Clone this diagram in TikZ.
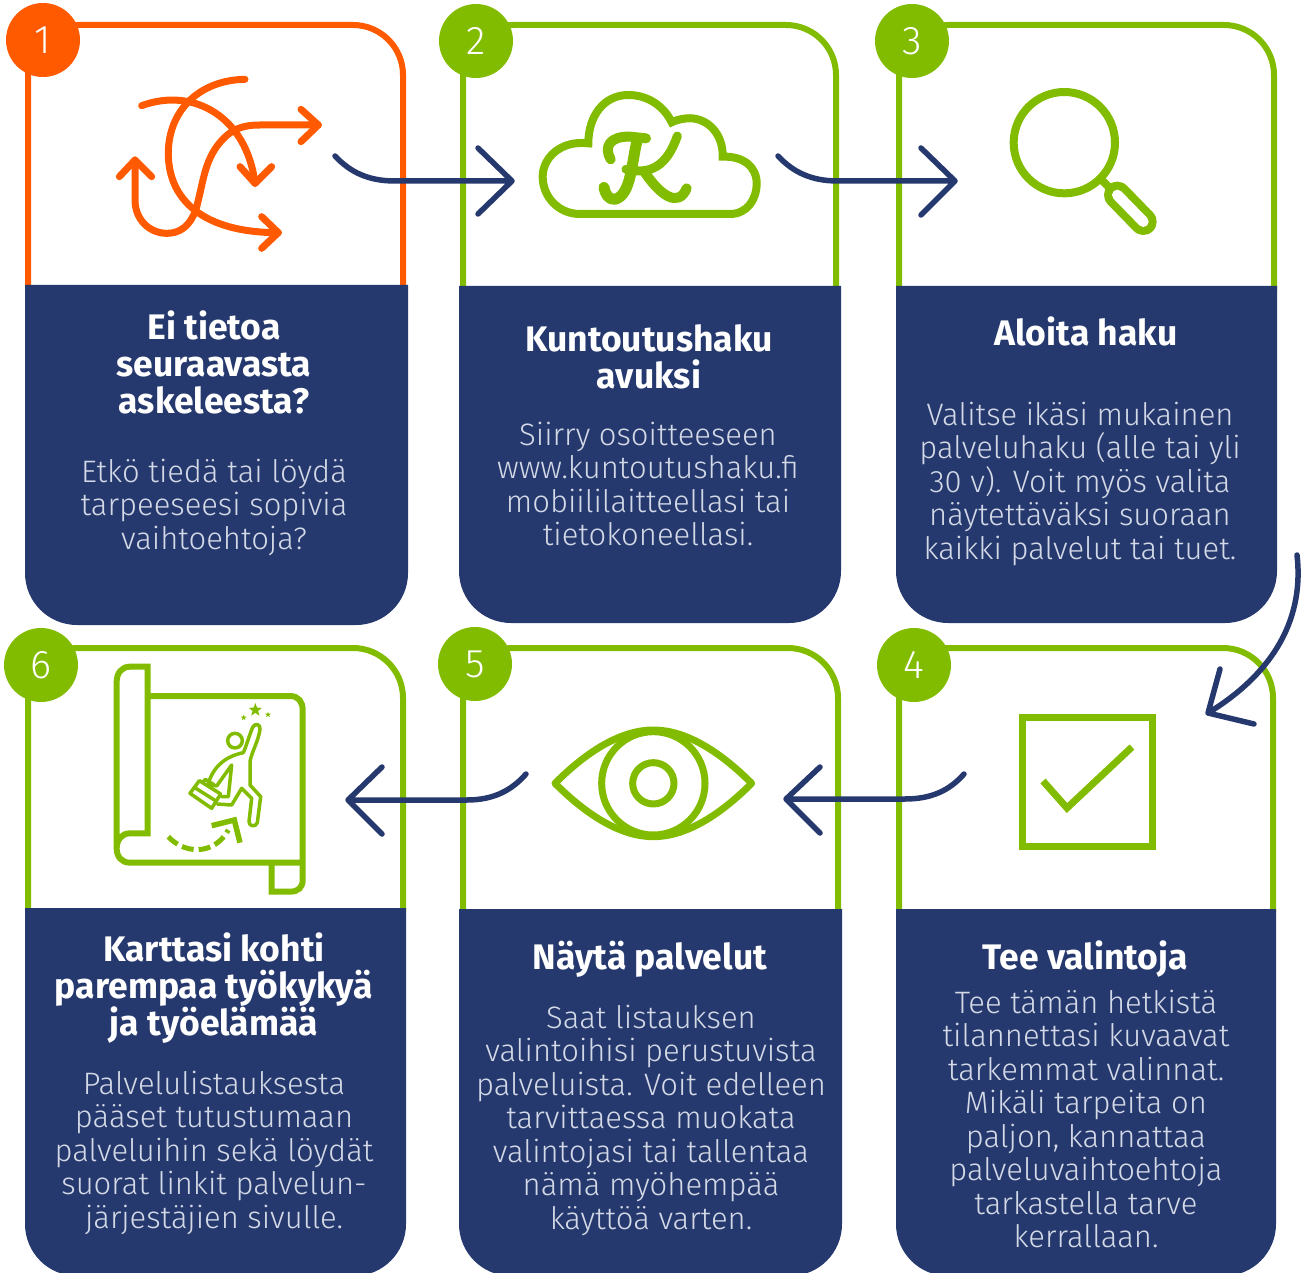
\documentclass[tikz,border=0pt]{standalone}
\usepackage{fontspec}
\setmainfont{Fira Sans}[UprightFont=* Light,BoldFont=* Bold]
\usetikzlibrary{shapes.geometric}
\definecolor{ora}{HTML}{FF5A00}
\definecolor{grn}{HTML}{82BC00}
\definecolor{nav}{HTML}{26396E}
\definecolor{soft}{HTML}{D3D9E6}
\newcommand{\rimbox}[5]{\draw[#1,line width=6pt,rounded corners=50pt] (#2,#5) -- (#2,#4) -- (#3,#4) -- (#3,#5);}
\newcommand{\navbox}[4]{\fill[nav] (#1,#3) -- (#2,#3) [rounded corners=52pt] -- (#2,#4) -- (#1,#4) [sharp corners] -- cycle;}
\tikzset{
  numdisc/.style={circle,minimum size=74pt,inner sep=0pt,text=white,font=\fontsize{40}{42}\selectfont},
  titletext/.style={text=white,align=center,anchor=north,inner sep=0pt,yshift=27pt,font=\fontsize{35.5}{37}\selectfont\bfseries},
  bodytext/.style={text=soft,align=center,anchor=north,inner sep=0pt,yshift=25pt,font=\fontsize{31}{33.5}\selectfont},
  conn/.style={draw=nav,line width=5.5pt,line cap=round,line join=round},
  icon/.style={draw=grn,line width=7pt,line join=round,line cap=round},
  fineicon/.style={draw=grn,line width=3.5pt,line join=round,line cap=round},
  oraicon/.style={draw=ora,line width=7pt,line join=round,line cap=round}
}
\newcommand{\tl}{\rule{0pt}{27pt}}
\newcommand{\bl}{\rule{0pt}{25pt}}
\begin{document}
\begin{tikzpicture}[x=1pt,y=-1pt]
\useasboundingbox (0,0) rectangle (1307,1273);
% frames
\rimbox{ora}{28}{403}{25}{290}
\rimbox{grn}{463}{836}{25}{290}
\rimbox{grn}{899}{1274}{25}{290}
\rimbox{grn}{28}{403}{648}{912}
\rimbox{grn}{463}{838}{648}{912}
\rimbox{grn}{899}{1273}{648}{912}
\navbox{25}{408}{285}{625}
\navbox{459}{841}{286}{623}
\navbox{896}{1277}{286}{623}
\navbox{25}{406}{908}{1276}
\navbox{459}{842}{909}{1276}
\navbox{896}{1276}{909}{1276}
% number discs
\node[numdisc,fill=ora] (n1) at (43,40) {1};
\node[numdisc,fill=grn] (n2) at (476,41) {2};
\node[numdisc,fill=grn] (n3) at (912,41) {3};
\node[numdisc,fill=grn] (n4) at (914,665) {4};
\node[numdisc,fill=grn] (n5) at (475,664) {5};
\node[numdisc,fill=grn] (n6) at (41,665) {6};
% icon 1
\begin{scope}[shift={(100,60)},scale=1/3]
\draw[oraicon] (435,58) .. controls (300,60) and (205,150) .. (205,280) .. controls (205,420) and (310,518) .. (535,518);
\draw[oraicon] (485,470) -- (535,518) -- (485,565);
\draw[oraicon] (125,137) .. controls (280,80) and (440,170) .. (465,370);
\draw[oraicon] (420,320) -- (465,370) -- (515,320);
\draw[oraicon] (105,300) -- (105,420) .. controls (105,480) and (150,520) .. (200,520) .. controls (260,520) and (285,470) .. (295,420) .. controls (310,360) and (315,310) .. (350,260) .. controls (390,205) and (430,195) .. (480,195) -- (655,195);
\draw[oraicon] (603,148) -- (655,195) -- (603,245);
\draw[oraicon] (58,350) -- (105,300) -- (155,350);
\end{scope}
% icon 2: cloud with K
\begin{scope}[shift={(520,80)},scale=1/3]
\draw[icon,line width=8pt,line cap=butt,line join=miter] (180,402) -- (630,402) .. controls (680,402) and (710,360) .. (710,310) .. controls (710,260) and (670,228) .. (608,230) .. controls (610,160) and (560,110) .. (500,115) .. controls (480,117) and (465,122) .. (455,127) .. controls (430,75) and (380,45) .. (325,45) .. controls (250,45) and (205,110) .. (205,190) .. controls (120,180) and (68,235) .. (68,290) .. controls (68,350) and (115,402) .. (180,402) -- cycle;
\draw[icon,line width=10pt] (272,238) .. controls (250,200) and (270,168) .. (330,170) -- (378,175);
\draw[icon,line width=11pt] (352,180) .. controls (335,240) and (335,345) .. (285,358) .. controls (265,360) and (255,340) .. (252,322);
\draw[icon,line width=9pt] (472,168) .. controls (440,260) and (390,285) .. (318,268);
\draw[icon,line width=10pt] (375,278) .. controls (420,345) and (475,385) .. (500,325);
\end{scope}
% icon 3: magnifier
\begin{scope}[shift={(1000,80)},scale=1/3]
\draw[icon,line width=8pt] (193,188) circle [radius=152];
\draw[icon,line width=8pt,line cap=butt] (307,302) -- (335,330);
\draw[grn,line width=26.7pt,line cap=round] (352,345) -- (430,425);
\draw[white,line width=10.7pt,line cap=round] (352,345) -- (430,425);
\end{scope}
% icon 4: check box
\draw[icon,line width=7pt,line cap=butt,line join=miter] (1022,717) rectangle (1152,846);
\draw[icon,line cap=butt,line join=miter] (1043,781) -- (1067,808) -- (1132,747);
% icon 5: eye
\begin{scope}[shift={(540,715)},scale=1/3]
\draw[icon] (45,205) .. controls (150,100) and (250,45) .. (340,45) .. controls (430,45) and (530,100) .. (635,205) .. controls (530,310) and (430,365) .. (340,365) .. controls (250,365) and (150,310) .. (45,205) -- cycle;
\draw[icon] (340,205) circle [radius=155];
\draw[icon] (340,205) circle [radius=62];
\end{scope}
% icon 6: map with figure
\begin{scope}[shift={(100,650)},scale=1/3]
\draw[icon,line width=6pt,line join=miter,line cap=butt] (143,138) -- (570,138) .. controls (595,138) and (608,155) .. (608,180) -- (608,690) .. controls (608,712) and (595,725) .. (570,725) -- (515,725) -- (515,638);
\draw[icon,line width=6pt,line join=miter,line cap=butt] (608,638) -- (90,638) .. controls (65,638) and (50,620) .. (50,595) .. controls (50,570) and (65,550) .. (90,550) -- (143,550) -- (143,50) -- (90,50) .. controls (65,50) and (50,70) .. (50,95) -- (50,595);
\draw[fineicon] (405,272) circle [radius=22];
\draw[fineicon] (430,308) .. controls (440,285) and (450,250) .. (458,232) .. controls (465,218) and (482,222) .. (480,238) .. controls (475,275) and (455,305) .. (450,335) -- (450,405) -- (482,440) -- (472,518) .. controls (468,532) and (447,530) .. (447,515) -- (455,445) -- (425,415) -- (395,465) -- (352,462);
\draw[fineicon] (430,308) .. controls (395,315) and (345,335) .. (325,400) -- (350,408) -- (395,345) -- (385,440) -- (365,440);
\draw[fineicon] (270,430) -- (298,392) -- (362,432) -- (335,475) -- cycle;
\draw[fineicon] (283,412) -- (348,453);
\draw[fineicon] (308,398) -- (316,388) -- (340,403) -- (334,412);
\draw[grn,line width=5pt,dash pattern=on 12pt off 5pt] (205,560) .. controls (250,610) and (340,620) .. (385,540);
\draw[icon,line width=5.5pt,line cap=butt,line join=miter] (335,527) -- (403,510) -- (420,578);
\node[star,star points=5,star point ratio=2.4,fill=grn,inner sep=0pt,minimum size=14pt] (bigstar) at (466,180) {};
\node[star,star points=5,star point ratio=2.4,fill=grn,inner sep=0pt,minimum size=6pt] (leftstar) at (431,203) {};
\node[star,star points=5,star point ratio=2.4,fill=grn,inner sep=0pt,minimum size=6pt] (rightstar) at (504,194) {};
\end{scope}
% connectors
\coordinate (a1s) at (335,156); \coordinate (a1t) at (512,181);
\coordinate (a2s) at (778,156); \coordinate (a2t) at (955,181);
\coordinate (a3s) at (1297,555); \coordinate (a3t) at (1208,713);
\coordinate (a4s) at (964,774); \coordinate (a4t) at (786,799);
\coordinate (a5s) at (526,774); \coordinate (a5t) at (348,800);
\draw[conn] (a1s) .. controls (350,172) and (368,181) .. (395,181) -- (a1t) (478,148) -- (a1t) -- (478,214);
\draw[conn] (a2s) .. controls (793,172) and (811,181) .. (838,181) -- (a2t) (921,148) -- (a2t) -- (921,215);
\draw[conn] (a3s) .. controls (1305,625) and (1267,677) .. (a3t) (1220,669) -- (a3t) -- (1254,724);
\draw[conn] (a4s) .. controls (950,790) and (932,799) .. (905,799) -- (a4t) (820,767) -- (a4t) -- (820,833);
\draw[conn] (a5s) .. controls (512,790) and (494,800) .. (467,800) -- (a5t) (382,767) -- (a5t) -- (382,834);
% titles
\node[titletext] (t1) at (214,338) {\tl Ei tietoa\\seuraavasta\\askeleesta?};
\node[titletext] (t2) at (649,351) {\tl Kuntoutushaku\\avuksi};
\node[titletext] (t3) at (1086,344) {\tl Aloita haku};
\node[titletext] (t4) at (1085,968) {\tl Tee valintoja};
\node[titletext] (t5) at (650,968) {\tl Näytä palvelut};
\node[titletext] (t6) at (214,960) {\tl Karttasi kohti\\parempaa työkykyä\\ja työelämää};
% bodies
\node[bodytext] (b1) at (214,482) {\bl Etkö tiedä tai löydä\\tarpeeseesi sopivia\\vaihtoehtoja?};
\node[bodytext] (b2) at (648,445) {\bl Siirry osoitteeseen\\www.kuntoutushaku.fi\\mobiililaitteellasi tai\\tietokoneellasi.};
\node[bodytext] (b3) at (1080,425) {\bl Valitse ikäsi mukainen\\palveluhaku (alle tai yli\\30 v). Voit myös valita\\näytettäväksi suoraan\\kaikki palvelut tai tuet.};
\node[bodytext] (b4) at (1086,1013) {\bl Tee tämän hetkistä\\tilannettasi kuvaavat\\tarkemmat valinnat.\\Mikäli tarpeita on\\paljon, kannattaa\\palveluvaihtoehtoja\\tarkastella tarve\\kerrallaan.};
\node[bodytext] (b5) at (651,1028) {\bl Saat listauksen\\valintoihisi perustuvista\\palveluista. Voit edelleen\\tarvittaessa muokata\\valintojasi tai tallentaa\\nämä myöhempää\\käyttöä varten.};
\node[bodytext] (b6) at (214,1094) {\bl Palvelulistauksesta\\pääset tutustumaan\\palveluihin sekä löydät\\suorat linkit palvelun-\\järjestäjien sivulle.};
\end{tikzpicture}
\end{document}
